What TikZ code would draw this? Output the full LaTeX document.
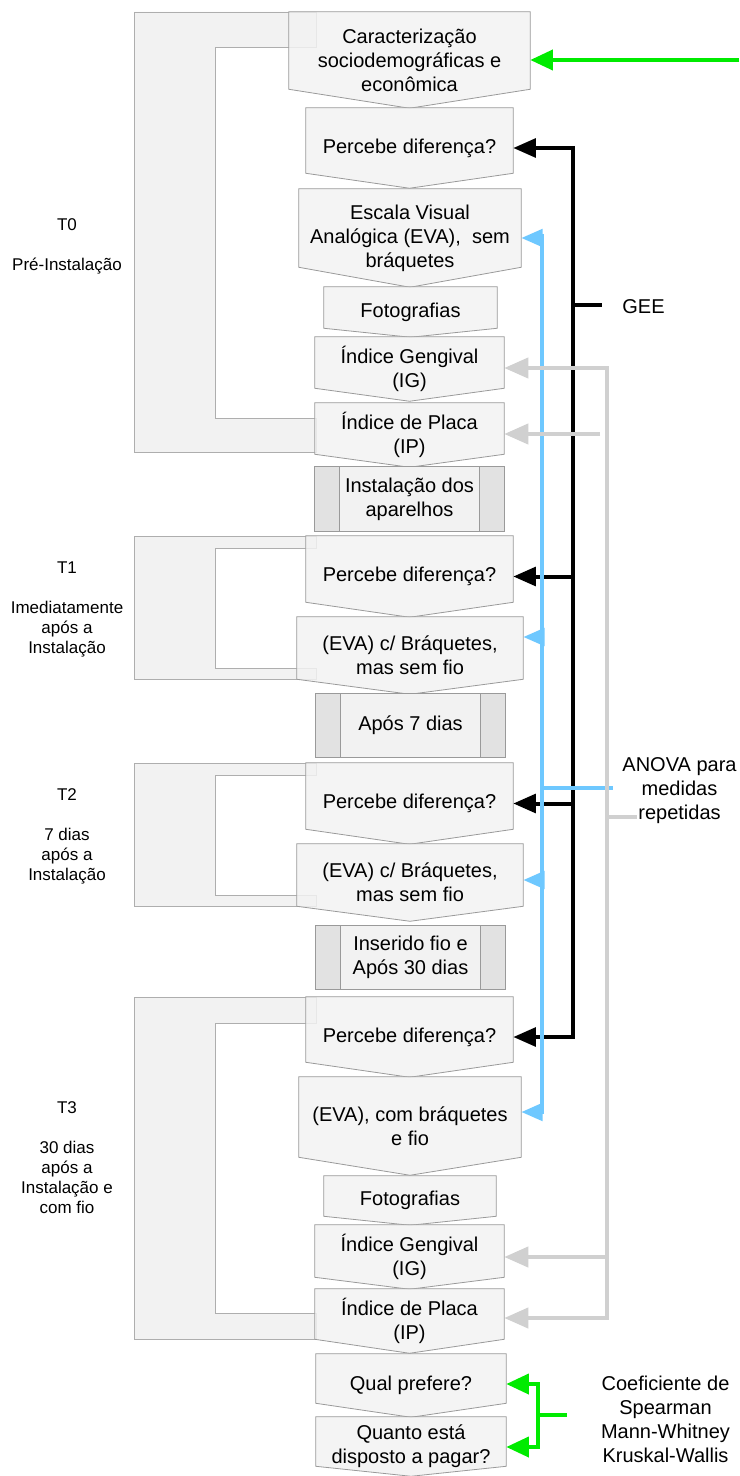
\documentclass[tikz,border=0pt]{standalone}
\usepackage{fontspec}
\setmainfont{Liberation Sans}
\usepackage{tikz}
\usetikzlibrary{arrows.meta, calc}

\definecolor{boxgray}{HTML}{F2F2F2}
\definecolor{edgegray}{HTML}{9A9A9A}
\definecolor{sidegray}{HTML}{E2E2E2}
\definecolor{anovablue}{RGB}{110,200,255}
\definecolor{anovagray}{RGB}{208,208,208}
\definecolor{statgreen}{RGB}{0,235,0}

\pgfdeclarelayer{back}
\pgfdeclarelayer{mid}
\pgfsetlayers{back,mid,main}

\tikzset{
  box/.style 2 args={minimum width=#1*0.75pt, minimum height=#2*0.75pt},
  flow/.style={inner sep=0pt, align=center, font=\fontsize{15pt}{18pt}\selectfont},
  phase/.style={align=center, inner sep=0pt, font=\fontsize{12.75pt}{15pt}\selectfont},
  stat/.style={align=center, inner sep=0pt, font=\fontsize{15pt}{18pt}\selectfont},
  pentline/.style={draw=edgegray, line width=0.6pt, fill=boxgray, fill opacity=0.85},
  frameline/.style={draw=edgegray!80, line width=0.6pt, fill=boxgray},
  procline/.style={draw=edgegray, line width=0.6pt},
  gee/.style={draw=black, line width=3pt},
  geetip/.style={gee, -{Triangle[length=17pt,width=14pt]}},
  blu/.style={draw=anovablue, line width=3pt},
  blutip/.style={blu, -{Triangle[length=16pt,width=13pt]}},
  gry/.style={draw=anovagray, line width=3pt},
  grytip/.style={gry, -{Triangle[length=18pt,width=15pt]}},
  grn/.style={draw=statgreen, line width=3pt},
  grntip/.style={grn, -{Triangle[length=17pt,width=15pt]}}
}

\begin{document}
\begin{tikzpicture}[x=0.75pt, y=-0.75pt]
  \useasboundingbox (0,0) rectangle (739,1476);

  % T0
  \node[flow, box={241}{96}] (car) at (409.5,60) {Caracterização\\sociodemográficas e\\econômica};
  \node[flow, box={207}{80}] (pd0) at (409.5,148) {Percebe diferença?};
  \node[flow, box={222}{98}] (eva0) at (410,238) {Escala Visual\\Analógica (EVA),~ sem\\bráquetes};
  \node[flow, box={173}{50}] (foto0) at (410.5,312) {Fotografias};
  \node[flow, box={189}{64}] (ig0) at (409.5,369) {Índice Gengival\\(IG)};
  \node[flow, box={189}{64}] (ip0) at (409.5,435) {Índice de Placa\\(IP)};
  \node[flow, box={189}{64}] (inst) at (409.5,499) {Instalação dos\\aparelhos};
  % T1
  \node[flow, box={207}{81}] (pd1) at (409.5,576.5) {Percebe diferença?};
  \node[flow, box={226}{77}] (eva1) at (410,655.5) {(EVA) c/ Bráquetes,\\mas sem fio};
  \node[flow, box={189}{63}] (apos7) at (410.5,725.5) {Após 7 dias};
  % T2
  \node[flow, box={207}{81}] (pd2) at (409.5,803.5) {Percebe diferença?};
  \node[flow, box={226}{77}] (eva2) at (410,882.5) {(EVA) c/ Bráquetes,\\mas sem fio};
  \node[flow, box={189}{63}] (ins30) at (410.5,957.5) {Inserido fio e\\Após 30 dias};
  % T3
  \node[flow, box={207}{80}] (pd3) at (409.5,1037) {Percebe diferença?};
  \node[flow, box={222}{98}] (eva3) at (410,1126) {(EVA), com bráquetes\\e fio};
  \node[flow, box={172}{49}] (foto3) at (410,1200.5) {Fotografias};
  \node[flow, box={189}{64}] (ig3) at (409.5,1257) {Índice Gengival\\(IG)};
  \node[flow, box={189}{64}] (ip3) at (409.5,1321) {Índice de Placa\\(IP)};
  \node[flow, box={190}{63}] (qual) at (411,1385.5) {Qual prefere?};
  \node[flow, box={190}{59}] (quanto) at (411,1446.5) {Quanto está\\disposto a pagar?};

  % phases
  \node[phase] (t0) at (67,246) {T0\\[15pt]Pré-Instalação};
  \node[phase] (t1) at (67,609) {T1\\[15pt]Imediatamente\\após a\\Instalação};
  \node[phase] (t2) at (67,836) {T2\\[15pt]7 dias\\após a\\Instalação};
  \node[phase] (t3) at (67,1158) {T3\\[15pt]30 dias\\após a\\Instalação e\\com fio};

  \node[stat] (geelbl) at (643.5,307) {GEE};
  \node[stat] (anova) at (679.5,791) {ANOVA para\\medidas\\repetidas};
  \node[stat] (coef) at (665.5,1419) {Coeficiente de\\Spearman\\Mann-Whitney\\Kruskal-Wallis};

  \begin{pgfonlayer}{back}
    \foreach \t/\i/\j/\b in {12/47/418/452, 536/548/668/679, 763/775/895/906, 997/1023/1313/1339}
      \draw[frameline] (134,\t) -- (316,\t) -- (316,\i) -- (215,\i) -- (215,\j) -- (316,\j) -- (316,\b) -- (134,\b) -- cycle;
  \end{pgfonlayer}

  \begin{pgfonlayer}{mid}
    \foreach \n/\d in {car/19, pd0/15, eva0/20, foto0/9, ig0/13, ip0/13, pd1/15, eva1/15, pd2/15, eva2/15,
                       pd3/15, eva3/18, foto3/9, ig3/12, ip3/14, qual/14, quanto/10}
      \draw[pentline] (\n.north west) -- (\n.north east) -- ($(\n.south east)+(0,-\d)$)
                      -- (\n.south) -- ($(\n.south west)+(0,-\d)$) -- cycle;
    \foreach \n in {inst, apos7, ins30}{
      \draw[procline, fill=sidegray] (\n.north west) rectangle (\n.south east);
      \draw[procline, fill=boxgray] ($(\n.north west)+(25,0)$) rectangle ($(\n.south east)+(-25,0)$);
    }
  \end{pgfonlayer}

  % GEE
  \coordinate (g0) at (573,148);
  \coordinate (g3) at (573,1037);
  \coordinate (gs) at (573,305);
  \draw[gee] ([yshift=1.5pt]g0) -- ([yshift=-1.5pt]g3);
  \draw[gee] (gs) -- ++(29,0);
  \draw[geetip] (g0) -- (pd0.east);
  \draw[geetip] (pd1.east -| g0) -- (pd1.east);
  \draw[geetip] (pd2.east -| g0) -- (pd2.east);
  \draw[geetip] (g3) -- (pd3.east);

  % ANOVA (EVA)
  \coordinate (b0) at (542,238);
  \coordinate (b1) at (542,637);
  \coordinate (b2) at (542,880);
  \coordinate (b3) at (542,1112);
  \coordinate (bs) at (542,788);
  \draw[blu] ([yshift=3pt]b0) -- ([yshift=-1.5pt]b3);
  \draw[blu] (bs) -- ++(71,0);
  \foreach \c/\n in {b0/eva0, b1/eva1, b2/eva2, b3/eva3}
    \draw[blutip] (\c) -- (\c -| \n.east);

  % ANOVA (IG, IP)
  \coordinate (a0) at (607,368);
  \coordinate (a1) at (600,434);
  \coordinate (a2) at (607,1257);
  \coordinate (a3) at (607,1318);
  \coordinate (as) at (607,817);
  \draw[gry] ([yshift=1.5pt]a0) -- ([yshift=-1.5pt]a3);
  \draw[gry] (as) -- ++(30,0);
  \foreach \c/\n in {a0/ig0, a1/ip0, a2/ig3, a3/ip3}
    \draw[grytip] (\c) -- (\c -| \n.east);

  % green
  \coordinate (gin) at (739,60);
  \draw[grntip] (gin) -- (car.east);
  \coordinate (q0) at (538,1384);
  \coordinate (q1) at (538,1447);
  \coordinate (qs) at (538,1415);
  \draw[grn] ([yshift=1.5pt]q0) -- ([yshift=-1.5pt]q1);
  \draw[grn] (qs) -- ++(29,0);
  \draw[grntip] (q0) -- (q0 -| qual.east);
  \draw[grntip] (q1) -- (q1 -| quanto.east);
\end{tikzpicture}
\end{document}
